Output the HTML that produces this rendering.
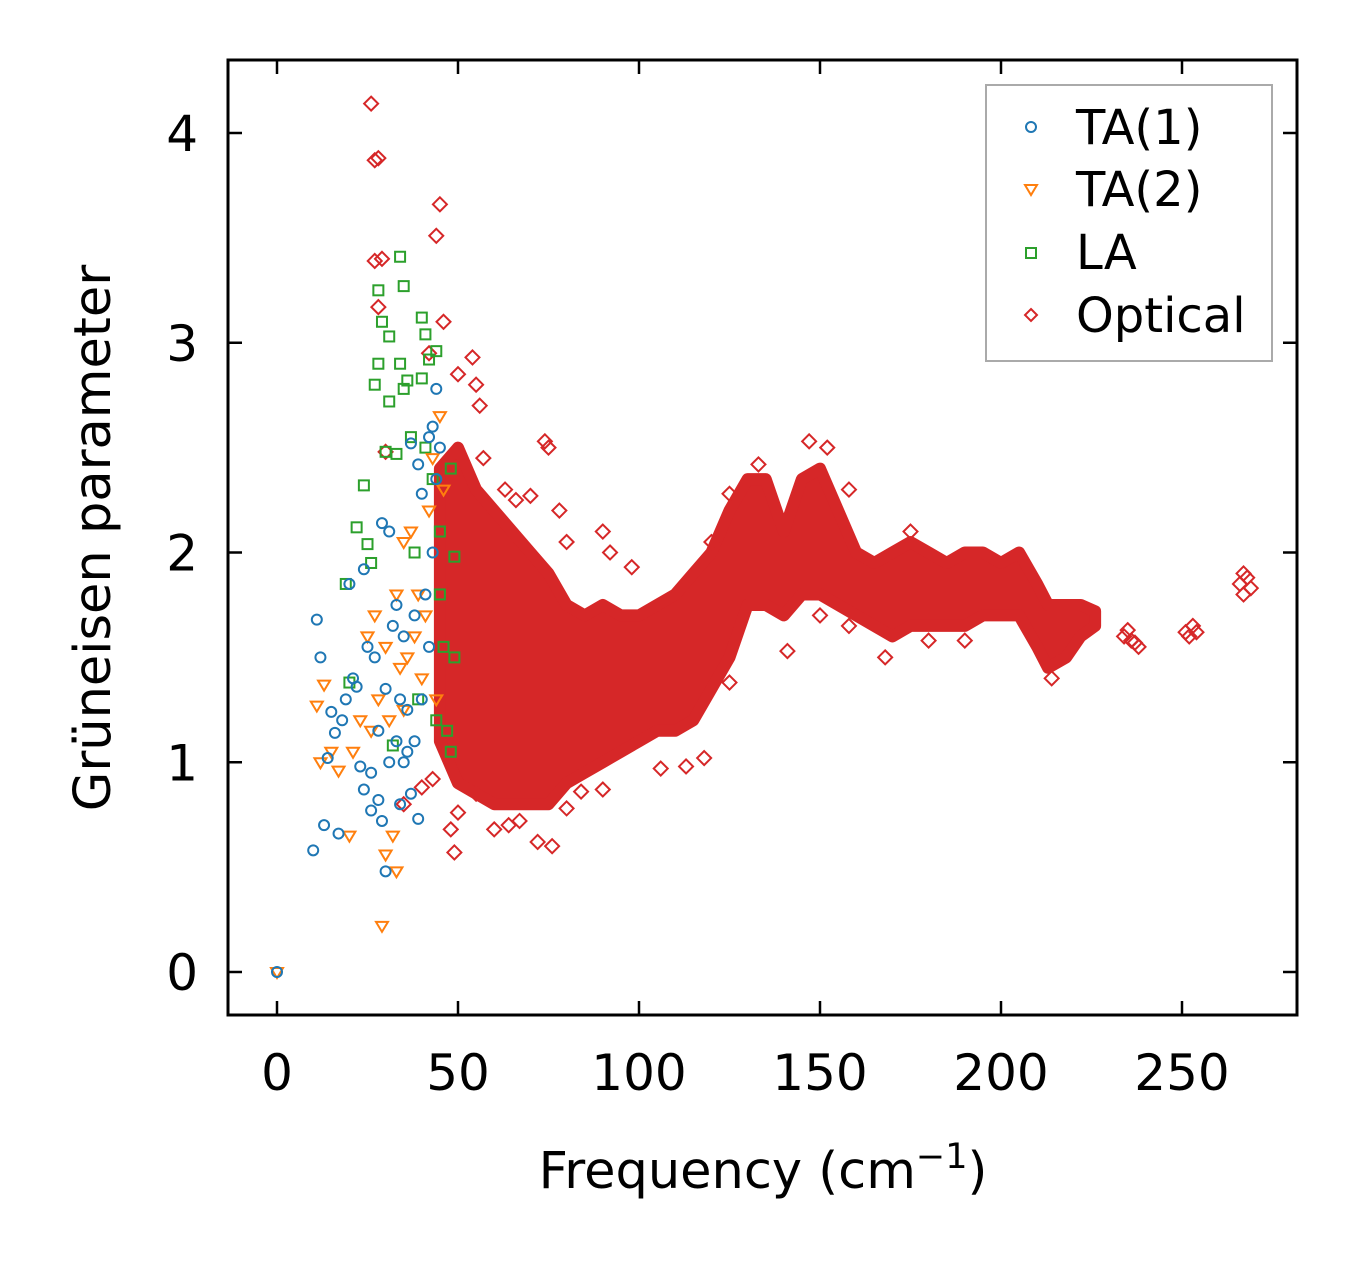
<!DOCTYPE html>
<html><head><meta charset="utf-8"><style>
body{margin:0;background:#fff;}
svg{display:block;font-family:"DejaVu Sans","Liberation Sans",sans-serif;}
</style></head><body>
<svg id="chart" width="1357" height="1264">
<rect x="228" y="60" width="1069" height="955" fill="none" stroke="#000" stroke-width="3"/>
<g id="ticks"></g>
<g id="marks"></g>
<text x="763" y="1188" font-size="51" text-anchor="middle">Frequency (cm<tspan dy="-20" font-size="35">−1</tspan><tspan dy="20">)</tspan></text>
<text transform="translate(110,538) rotate(-90)" font-size="51" text-anchor="middle">Grüneisen parameter</text>
<g>
<rect x="986" y="85" width="286" height="276" fill="#fff" stroke="#aaa" stroke-width="2"/>
<circle cx="1031" cy="127" r="5" fill="none" stroke="#1f77b4" stroke-width="2"/>
<text x="1076" y="144" font-size="48">TA(1)</text>
<path d="M1025,185 L1037,185 L1031,195 Z" fill="none" stroke="#ff7f0e" stroke-width="2"/>
<text x="1076" y="206" font-size="48">TA(2)</text>
<rect x="1026" y="248" width="10" height="10" fill="none" stroke="#2ca02c" stroke-width="2"/>
<text x="1076" y="269" font-size="48">LA</text>
<path d="M1031,309 L1037,315 L1031,321 L1025,315 Z" fill="none" stroke="#d62728" stroke-width="2"/>
<text x="1076" y="332" font-size="48">Optical</text>
</g>
</svg>
<script>
const xTicks=[0,50,100,150,200,250];
const yTicks=[0,1,2,3,4];
const ta1=[[0,0],[10,0.58],[11,1.68],[12,1.5],[13,0.7],[14,1.02],[15,1.24],[16,1.14],[17,0.66],[18,1.2],[19,1.3],[20,1.85],[21,1.4],[22,1.36],[23,0.98],[24,0.87],[24,1.92],[25,1.55],[26,0.77],[26,0.95],[27,1.5],[28,0.82],[28,1.15],[29,2.14],[29,0.72],[30,1.35],[30,0.48],[31,2.1],[31,1.0],[32,1.65],[33,1.1],[33,1.75],[34,0.8],[34,1.3],[35,1.0],[35,1.6],[36,1.05],[36,1.25],[37,2.52],[37,0.85],[38,1.1],[38,1.7],[39,2.42],[39,0.73],[40,2.28],[40,1.3],[41,1.8],[42,2.55],[42,1.55],[43,2.6],[43,2.0],[44,2.35],[44,2.78],[45,2.5]];
const ta2=[[0,0],[11,1.27],[12,1.0],[13,1.37],[15,1.05],[17,0.96],[20,0.65],[21,1.05],[23,1.2],[25,1.6],[26,1.15],[27,1.7],[28,1.3],[29,0.22],[30,0.56],[30,1.55],[31,1.2],[32,0.65],[33,0.48],[33,1.8],[34,1.45],[35,1.25],[35,2.05],[36,1.5],[37,2.1],[38,1.6],[39,1.8],[40,1.4],[41,1.7],[42,2.2],[43,2.45],[44,1.3],[45,2.65],[46,2.3]];
const la=[[19,1.85],[20,1.38],[22,2.12],[24,2.32],[25,2.04],[26,1.95],[27,2.8],[28,3.25],[28,2.9],[29,3.1],[30,2.48],[31,3.03],[31,2.72],[32,1.08],[33,2.47],[34,3.41],[34,2.9],[35,3.27],[35,2.78],[36,2.82],[37,2.55],[38,2.0],[39,1.3],[40,3.12],[40,2.83],[41,3.04],[41,2.5],[42,2.92],[43,2.35],[44,2.96],[44,1.2],[45,2.1],[45,1.8],[46,1.55],[47,1.15],[48,2.4],[48,1.05],[49,1.98],[49,1.5]];
const optPts=[[26,4.14],[27,3.87],[28,3.88],[27,3.39],[29,3.4],[28,3.17],[30,2.48],[45,3.66],[44,3.51],[46,3.1],[42,2.95],[50,2.85],[54,2.93],[55,2.8],[56,2.7],[57,2.45],[63,2.3],[66,2.25],[70,2.27],[74,2.53],[75,2.5],[78,2.2],[80,2.05],[90,2.1],[92,2.0],[98,1.93],[120,2.05],[125,2.28],[133,2.42],[147,2.53],[152,2.5],[158,2.3],[175,2.1],[49,0.57],[48,0.68],[50,0.76],[55,0.85],[60,0.68],[64,0.7],[67,0.72],[72,0.62],[76,0.6],[80,0.78],[84,0.86],[90,0.87],[106,0.97],[113,0.98],[118,1.02],[125,1.38],[141,1.53],[150,1.7],[158,1.65],[168,1.5],[180,1.58],[190,1.58],[214,1.4],[234,1.6],[235,1.63],[236,1.58],[237,1.57],[238,1.55],[251,1.62],[252,1.6],[253,1.65],[254,1.62],[266,1.85],[267,1.8],[268,1.88],[269,1.83],[267,1.9],[35,0.8],[40,0.88],[43,0.92]];
const bandF=[45,50,55,60,65,70,75,80,85,90,95,100,105,110,115,120,125,130,135,140,145,150,155,160,165,170,175,180,185,190,195,200,205,210,213,218,222,226];
const bandLo=[1.1,0.9,0.85,0.8,0.8,0.8,0.8,0.9,0.95,1.0,1.05,1.1,1.15,1.15,1.2,1.35,1.5,1.75,1.75,1.7,1.8,1.8,1.75,1.7,1.65,1.6,1.65,1.65,1.65,1.65,1.7,1.7,1.7,1.55,1.45,1.5,1.6,1.65];
const bandHi=[2.4,2.5,2.3,2.2,2.1,2.0,1.9,1.75,1.7,1.75,1.7,1.7,1.75,1.8,1.9,2.0,2.2,2.35,2.35,2.1,2.35,2.4,2.2,2.0,1.95,2.0,2.05,2.0,1.95,2.0,2.0,1.95,2.0,1.85,1.75,1.75,1.75,1.72];
const X=v=>277+v*(1182-277)/250;
const Y=v=>972-v*(972-133)/4;
const NS='http://www.w3.org/2000/svg';
const tk=document.getElementById('ticks'),mk=document.getElementById('marks');
function el(t,a,p){const e=document.createElementNS(NS,t);for(const k in a)e.setAttribute(k,a[k]);p.appendChild(e);return e;}
xTicks.forEach(v=>{const x=X(v);
 el('line',{x1:x,x2:x,y1:1015,y2:1001,stroke:'#000','stroke-width':2.5},tk);
 el('line',{x1:x,x2:x,y1:60,y2:74,stroke:'#000','stroke-width':2.5},tk);
 const t=el('text',{x:x,y:1090,'font-size':50,'text-anchor':'middle'},tk);t.textContent=v;
 
 });
yTicks.forEach(v=>{const y=Y(v);
 el('line',{x1:228,x2:242,y1:y,y2:y,stroke:'#000','stroke-width':2.5},tk);
 el('line',{x1:1297,x2:1283,y1:y,y2:y,stroke:'#000','stroke-width':2.5},tk);
 const t=el('text',{x:198,y:y+18,'font-size':50,'text-anchor':'end'},tk);t.textContent=v;
 
 });
let d='M'+bandF.map((f,i)=>X(f)+','+Y(bandHi[i])).join(' L')+' L'+bandF.map((f,i)=>X(f)+','+Y(bandLo[i])).reverse().join(' L')+'Z';
const band=el('path',{d:d,fill:'#d62728',stroke:'#d62728','stroke-width':12,'stroke-linejoin':'round'},mk);


function draw(arr,kind,col,name){arr.forEach(p=>{const x=X(p[0]),y=Y(p[1]);let e;
 if(kind==='c')e=el('circle',{cx:x,cy:y,r:5,fill:'none',stroke:col,'stroke-width':2},mk);
 else if(kind==='t')e=el('path',{d:`M${x-6},${y-4} L${x+6},${y-4} L${x},${y+6}Z`,fill:'none',stroke:col,'stroke-width':2},mk);
 else if(kind==='s')e=el('rect',{x:x-5,y:y-5,width:10,height:10,fill:'none',stroke:col,'stroke-width':2},mk);
 else e=el('path',{d:`M${x},${y-7} L${x+7},${y} L${x},${y+7} L${x-7},${y}Z`,fill:'none',stroke:col,'stroke-width':2},mk);
 
 });}
draw(optPts,'d','#d62728','optical-point');
draw(la,'s','#2ca02c','la-point');
draw(ta2,'t','#ff7f0e','ta2-point');
draw(ta1,'c','#1f77b4','ta1-point');
</script>
</body></html>
